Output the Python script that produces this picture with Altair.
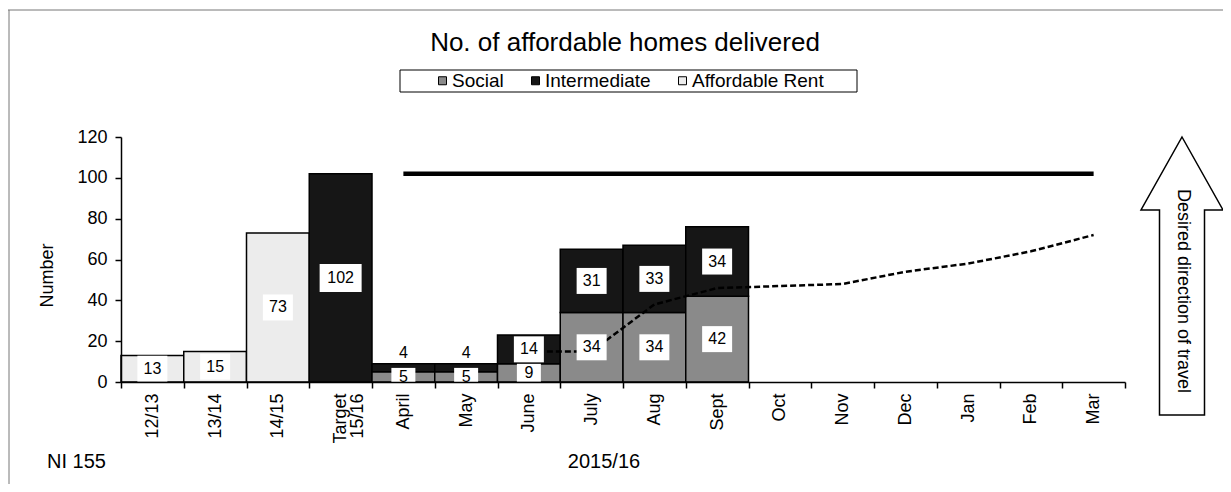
import altair as alt
import pandas as pd

# ---------------- data ----------------
categories = ["12/13", "13/14", "14/15", "Target 15/16", "April", "May", "June",
              "July", "Aug", "Sept", "Oct", "Nov", "Dec", "Jan", "Feb", "Mar"]
series_names = ["Social", "Intermediate", "Affordable Rent"]
social = [0, 0, 0, 0, 5, 5, 9, 34, 34, 42, 0, 0, 0, 0, 0, 0]
intermediate = [0, 0, 0, 102, 4, 4, 14, 31, 33, 34, 0, 0, 0, 0, 0, 0]
affordable_rent = [13, 15, 73, 0, 0, 0, 0, 0, 0, 0, 0, 0, 0, 0, 0, 0]

target_months = ["April", "May", "June", "July", "Aug", "Sept", "Oct", "Nov",
                 "Dec", "Jan", "Feb", "Mar"]
target_values = [102, 102, 102, 102, 102, 102, 102, 102, 102, 102, 102, 102]

trajectory_months = ["June", "July", "Aug", "Sept", "Oct", "Nov", "Dec", "Jan", "Feb", "Mar"]
trajectory_values = [15, 15, 38, 46, 47, 48, 54, 58, 64, 72]

y_ticks = [0, 20, 40, 60, 80, 100, 120]

title_text = "No. of affordable homes delivered"
y_title = "Number"
footer_left = "NI 155"
footer_mid = "2015/16"
arrow_text = "Desired direction of travel"

series_colors = ["#8a8a8a", "#161616", "#ececec"]

# ---------------- tables ----------------
rows = []
for i, c in enumerate(categories):
    base = 0
    for name, vals in zip(series_names, [social, intermediate, affordable_rent]):
        v = vals[i]
        if v > 0:
            mid = base + v / 2
            ly = base + v + 5 if v <= 4 else mid
            rows.append(dict(cat=c, series=name, v=v, y0=base, y1=base + v,
                             ly=ly, box=str(len(str(v)))))
            base += v
bars_df = pd.DataFrame(rows)
target_df = pd.DataFrame({"cat": target_months, "v": target_values})
traj_df = pd.DataFrame({"cat": trajectory_months, "v": trajectory_values})
one = pd.DataFrame({"k": [0]})

# ---------------- scales / axes ----------------
xscale = alt.Scale(domain=categories, paddingInner=0, paddingOuter=0)
yscale = alt.Scale(domain=[0, 120], nice=False)

x_axis = alt.Axis(title=None, labelAngle=270, labelAlign="right", labelBaseline="middle",
                  labelFontSize=18, labelColor="black", domainColor="black",
                  tickColor="black", domainWidth=1.5, tickWidth=1.5, tickSize=6,
                  tickBand="extent", labelPadding=5, labelLineHeight=17,
                  labelExpr="indexof(datum.label, ' ') > 0 ? split(datum.label, ' ') : datum.label",
                  grid=False, zindex=1)
y_axis = alt.Axis(title=y_title, values=y_ticks, grid=False, labelFontSize=18,
                  titleFontSize=18, titleFontWeight="normal", titleColor="black",
                  labelColor="black", domainColor="black", tickColor="black",
                  domainWidth=1.5, tickWidth=1.5, tickSize=6, labelPadding=8,
                  titlePadding=20, titleY=138, zindex=1)

X = alt.X("cat:N", scale=xscale, axis=x_axis)

box_paths = ["M-12,-9L12,-9L12,9L-12,9Z",
             "M-15,-13L15,-13L15,13L-15,13Z",
             "M-21,-14L21,-14L21,14L-21,14Z"]

# ---------------- layers ----------------
bars = alt.Chart(bars_df).mark_bar(stroke="black", strokeWidth=1.5).encode(
    x=X,
    y=alt.Y("y0:Q", scale=yscale, axis=y_axis),
    y2="y1:Q",
    color=alt.Color("series:N",
                    scale=alt.Scale(domain=series_names, range=series_colors),
                    legend=alt.Legend(title=None, orient="none", legendX=312, legendY=-66,
                                      direction="horizontal", symbolType="square",
                                      symbolSize=64, labelFontSize=19, labelOffset=0,
                                      columnPadding=22, symbolStrokeColor="black",
                                      symbolStrokeWidth=1, padding=0, labelColor="black")),
)

target_line = alt.Chart(target_df).mark_line(color="black", strokeWidth=4.5).encode(
    x=X, y=alt.Y("v:Q", scale=yscale, axis=y_axis))

traj_line = alt.Chart(traj_df).mark_line(color="black", strokeWidth=2.5,
                                         strokeDash=[6, 3]).encode(
    x=X, y=alt.Y("v:Q", scale=yscale, axis=y_axis))

boxes = alt.Chart(bars_df).mark_point(size=4, fill="white", stroke="white", strokeWidth=0,
                                      opacity=1, fillOpacity=1).encode(
    x=X, y=alt.Y("ly:Q", scale=yscale, axis=y_axis),
    shape=alt.Shape("box:N", scale=alt.Scale(domain=["1", "2", "3"], range=box_paths),
                    legend=None))

labels = alt.Chart(bars_df).mark_text(fontSize=16, color="black", baseline="middle").encode(
    x=X, y=alt.Y("ly:Q", scale=yscale, axis=y_axis), text="v:Q")

legend_box = alt.Chart(one).mark_rect(fill="white", fillOpacity=0, stroke="black",
                                      strokeWidth=1).encode(
    x=alt.value(279), x2=alt.value(736), y=alt.value(-67), y2=alt.value(-45))

frame_top = alt.Chart(one).mark_rule(color="#777777", strokeWidth=1).encode(
    x=alt.value(-113), x2=alt.value(1102), y=alt.value(-127))
frame_left = alt.Chart(one).mark_rule(color="#777777", strokeWidth=1).encode(
    x=alt.value(-112), y=alt.value(-127), y2=alt.value(347))

title = alt.Chart(pd.DataFrame({"t": [title_text]})).mark_text(
    fontSize=26, color="black", align="center", baseline="middle").encode(
    text="t:N", x=alt.value(504), y=alt.value(-94))

foot1 = alt.Chart(pd.DataFrame({"t": [footer_left]})).mark_text(
    fontSize=20, color="black", align="left", baseline="middle").encode(
    text="t:N", x=alt.value(-74), y=alt.value(325))
foot2 = alt.Chart(pd.DataFrame({"t": [footer_mid]})).mark_text(
    fontSize=20, color="black", align="center", baseline="middle").encode(
    text="t:N", x=alt.value(483), y=alt.value(325))

arrow_path = "M0,-139L41,-66L22.5,-66L22.5,139L-22.5,139L-22.5,-66L-41,-66Z"
arrow = alt.Chart(one).mark_point(shape=arrow_path, size=4, fill="white", stroke="black",
                                  strokeWidth=1.5, opacity=1, fillOpacity=1).encode(
    x=alt.value(1061), y=alt.value(139))
arrow_label = alt.Chart(pd.DataFrame({"t": [arrow_text]})).mark_text(
    fontSize=18, color="black", angle=90, align="center", baseline="middle").encode(
    text="t:N", x=alt.value(1062), y=alt.value(154))

chart = alt.layer(
    frame_top, frame_left, legend_box, bars, traj_line, target_line, boxes, labels,
    title, foot1, foot2, arrow, arrow_label
).properties(
    width=1004, height=245,
    padding={"left": 113, "top": 129, "right": 98, "bottom": 102},
    autosize=alt.AutoSizeParams(type="none"),
).configure(font="Liberation Sans").configure_view(stroke=None)

chart.save("out.html", embed_options={"renderer": "svg", "actions": False})
